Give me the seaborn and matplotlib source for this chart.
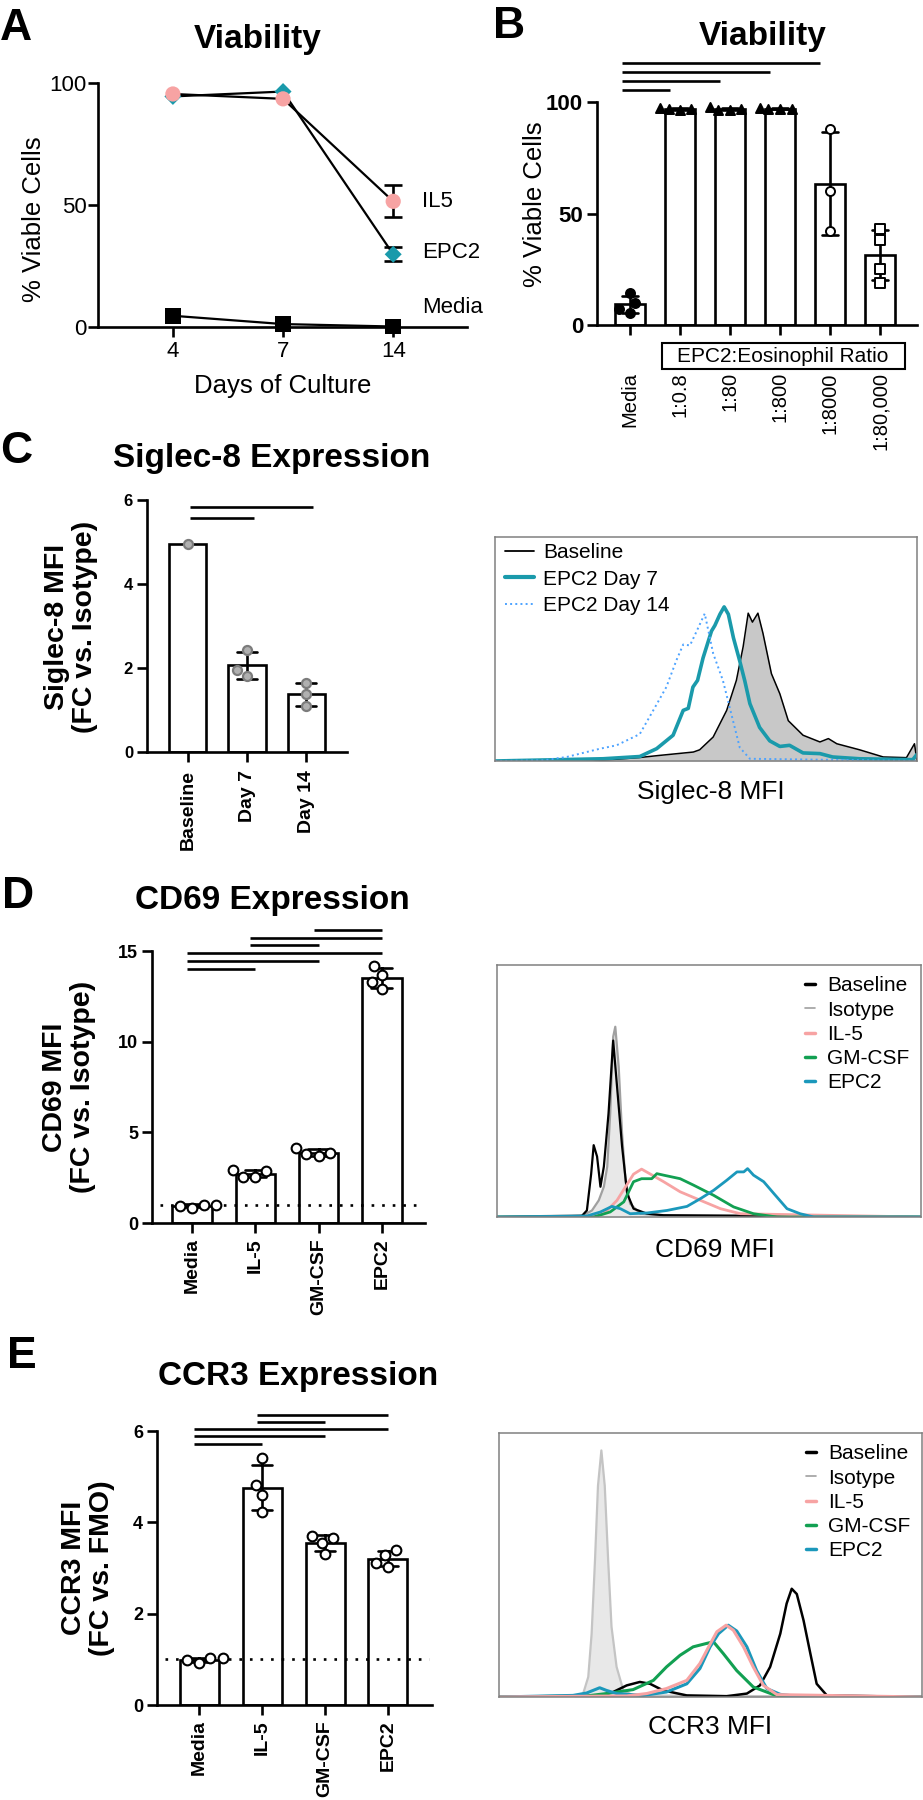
import numpy as np
import pandas as pd
import matplotlib
matplotlib.use("Agg")
import matplotlib.pyplot as plt
from matplotlib.lines import Line2D
from matplotlib.patches import Rectangle
import seaborn as sns

# ------------------------------------------------------------------
# A: viability vs days of culture (mean / sd)
# ------------------------------------------------------------------
A_DAYS = ["4", "7", "14"]
A_MEDIA = [4.6, 1.2, 0.2]
A_MEDIA_SD = [0.0, 0.0, 0.0]
A_EPC2 = [94.5, 96.5, 29.8]
A_EPC2_SD = [0.0, 0.0, 2.9]
A_IL5 = [95.5, 93.5, 51.5]
A_IL5_SD = [0.0, 0.0, 6.5]

# B: viability by EPC2:eosinophil ratio (replicates)
B_GROUPS = ["Media", "1:0.8", "1:80", "1:800", "1:8000", "1:80,000"]
B_MEDIA = [14.5, 10.0, 7.0, 5.5]
B_R08 = [97.3, 96.8, 96.5, 97.0]
B_R80 = [97.6, 96.5, 97.0, 96.3]
B_R800 = [97.0, 96.8, 97.2, 96.9]
B_R8000 = [88.0, 60.0, 42.0]
B_R80000 = [43.0, 38.0, 25.0, 19.0]
B_SIG = [("Media", "1:0.8"), ("Media", "1:80"), ("Media", "1:800"), ("Media", "1:8000")]

# C: Siglec-8 MFI
C_GROUPS = ["Baseline", "Day 7", "Day 14"]
C_BASE = [4.96]
C_D7 = [2.42, 1.95, 1.82]
C_D14 = [1.65, 1.38, 1.10]
C_SIG = [("Baseline", "Day 7"), ("Baseline", "Day 14")]

# C histogram (x: % of axis, y: % of axis height)
C_H_BASE_X = [0, 23, 34, 39, 47, 48.5, 51.7, 54.9, 57.2, 58.8, 60, 61, 62.3, 63.5, 65.5,
              67.5, 69.5, 73, 77, 79, 81, 86.4, 92, 97.5, 99.4, 100]
C_H_BASE_Y = [0, 0, 1.5, 2.5, 4, 5, 10.7, 22.6, 36, 51, 66, 62, 66, 57, 39,
              30, 18, 11.5, 8.5, 10, 7.7, 5, 1.8, 1.5, 7.7, 0]
C_H_D7_X = [0, 25.6, 34.3, 38.3, 42.2, 44.6, 45.8, 46.9, 48, 49.3, 51.3, 52.1, 53.3, 54.3,
            55.3, 56.5, 58, 59.2, 60.4, 62.7, 65.1, 67.5, 69.8, 73, 77, 80, 86.4, 99, 100]
C_H_D7_Y = [0, 1, 2, 5.5, 11.5, 22.6, 23.5, 33, 36, 46, 58, 60.5, 65.5, 68.8,
            65.5, 55, 44.6, 35.7, 25.6, 15, 9, 6.5, 7, 3.6, 3.3, 1.8, 1, 0.6, 3]
C_H_D14_X = [0, 11.4, 17, 24.9, 28.8, 34.3, 37.5, 40.6, 43, 44.6, 46.2, 47.8, 49.7,
             51.7, 54, 55.6, 58, 60.4, 100]
C_H_D14_Y = [0, 0.3, 1.8, 5.5, 7, 12, 22.6, 33, 45, 52, 51.6, 58, 65.8,
             48, 36, 24, 6, 1, 0]

# D: CD69 MFI
D_GROUPS = ["Media", "IL-5", "GM-CSF", "EPC2"]
D_MEDIA = [1.02, 1.02, 0.93, 0.85]
D_IL5 = [2.93, 2.87, 2.56, 2.55]
D_GM = [4.15, 3.88, 3.8, 3.67]
D_EPC2 = [13.7, 14.2, 13.3, 12.9]
D_SIG = [("Media", "IL-5"), ("Media", "GM-CSF"), ("Media", "EPC2"),
         ("IL-5", "GM-CSF"), ("IL-5", "EPC2"), ("GM-CSF", "EPC2")]

D_H_ISO_X = [0, 20.4, 22.4, 24, 25.2, 26, 26.7, 27.4, 27.9, 28.7, 29.5, 30.3, 31.4, 33.8, 38.5, 100]
D_H_ISO_Y = [0, 0.7, 2.6, 6.6, 12, 20, 41, 71.5, 75.5, 59.6, 33, 14.6, 5.3, 1.3, 0.7, 0]
D_H_BASE_X = [0, 20, 21.2, 22.2, 22.8, 23.6, 24.4, 25.2, 26.3, 27.4, 28.3, 29.5, 30.7, 32.2, 35.4, 39.3, 100]
D_H_BASE_Y = [0, 0.4, 2.6, 17, 28.5, 24, 12, 20, 41, 70, 52, 28, 9.3, 3.3, 1.3, 0.7, 0]
D_H_IL5_X = [0, 21.2, 25.2, 28.3, 30.7, 32.2, 34.1, 36.2, 39.3, 43.2, 48, 52.7, 57.4, 100]
D_H_IL5_Y = [0, 0, 1.3, 6.6, 13, 17, 19, 17, 14, 10, 6.6, 3.3, 1.3, 0]
D_H_GM_X = [0, 22.8, 26.7, 29.9, 32.2, 34.1, 36.5, 37.7, 39.3, 43.2, 46.4, 51.1, 55.8, 60.5, 66, 100]
D_H_GM_Y = [0, 0, 2, 6, 14, 15.2, 15.2, 17.2, 16.6, 15.2, 12.6, 8.6, 4, 1.3, 0, 0]
D_H_EPC2_X = [0, 21.2, 24.4, 27.1, 29.1, 31.4, 35.4, 40.1, 44.8, 48, 51.1, 54.2, 56.6, 58.2,
              59.1, 60.5, 62.9, 65.3, 68.4, 71.5, 74.7, 100]
D_H_EPC2_Y = [0, 0.4, 2, 4.2, 3.3, 1.3, 1.6, 2.6, 4.2, 7.3, 10.6, 14.6, 17.9, 17.9,
              19.2, 16.6, 14, 9.3, 3.3, 1.3, 0, 0]

# E: CCR3 MFI
E_GROUPS = ["Media", "IL-5", "GM-CSF", "EPC2"]
E_MEDIA = [1.02, 1.02, 0.99, 0.91]
E_IL5 = [5.4, 4.82, 4.6, 4.23]
E_GM = [3.7, 3.66, 3.55, 3.3]
E_EPC2 = [3.39, 3.28, 3.1, 3.03]
E_SIG = [("Media", "IL-5"), ("Media", "GM-CSF"), ("Media", "EPC2"),
         ("IL-5", "GM-CSF"), ("IL-5", "EPC2")]

E_H_ISO_X = [0, 17.5, 19.9, 21.1, 21.9, 22.7, 23.4, 24.2, 25, 25.8, 26.6, 27.8, 29.4, 31.7, 100]
E_H_ISO_Y = [0, 0, 1.3, 7.6, 24, 52, 80, 93.4, 80, 52, 26.6, 11.4, 2.5, 0.6, 0]
E_H_BASE_X = [0, 23.8, 27, 30.2, 33.3, 35.7, 38.8, 44.4, 53.8, 58.6, 61.7, 64.1, 66.5, 68,
              69.2, 70.4, 72, 73.6, 75.1, 77.5, 100]
E_H_BASE_Y = [0, 0.4, 1.9, 4.4, 5.7, 5, 2.5, 0.6, 0.3, 1.3, 4.4, 11.4, 24, 35.4,
              41, 39, 29, 16.5, 5, 0.6, 0]
E_H_IL5_X = [0, 30.2, 34.9, 39.6, 44.4, 47.5, 49.9, 51.5, 53.7, 55.4, 57.8, 60.1, 62.5, 65.7, 100]
E_H_IL5_Y = [0, 0.4, 1.3, 3.2, 6.3, 12.7, 20, 24.7, 27.2, 25.3, 19, 11.4, 4.4, 0.9, 0]
E_H_GM_X = [0, 20.7, 25.4, 31.7, 36.5, 39.6, 42.8, 45.9, 49.1, 50.7, 53, 56.2, 60.1, 64.9, 68, 100]
E_H_GM_Y = [0, 0.4, 1.3, 2.8, 6.3, 11.4, 15.8, 19, 20.3, 20.9, 16.5, 10, 3.8, 0.9, 0, 0]
E_H_EPC2_X = [0, 17.5, 20.7, 23.8, 25.4, 27.8, 34.1, 39.6, 44.4, 47.5, 49.9, 51.9, 54.2,
              56.2, 58.6, 60.9, 63.3, 66.5, 69.6, 100]
E_H_EPC2_Y = [0, 0.6, 1.5, 3.5, 2.5, 1.3, 0.6, 1.9, 5, 10.8, 19, 24, 27.2,
              25, 19, 10, 3.2, 1, 0.4, 0]

FC_REF = 1.0  # dotted reference line (fold change = 1)

# ------------------------------------------------------------------
# style
# ------------------------------------------------------------------
PINK = "#f7a3a3"
TEAL = "#1a9aab"
GREEN = "#12a052"
BLUE = "#1b98bb"
LIGHTBLUE = "#4da3ff"
LW = 1.9

sns.set_theme(style="ticks", rc={
    "axes.edgecolor": "black", "axes.linewidth": LW,
    "xtick.color": "black", "ytick.color": "black",
    "text.color": "black", "axes.labelcolor": "black",
})
plt.rcParams["font.family"] = ["Liberation Sans", "DejaVu Sans"]

W, H = 923, 1800
fig = plt.figure(figsize=(W / 100, H / 100), dpi=100)


def px_axes(x0, y0, x1, y1):
    return fig.add_axes([x0 / W, 1 - y1 / H, (x1 - x0) / W, (y1 - y0) / H])


def ftext(x, y, s, **kw):
    return fig.text(x / W, 1 - y / H, s, **kw)


def long_df(order, values):
    return pd.DataFrame({
        "group": [g for g, vals in zip(order, values) for _ in vals],
        "val": [v for vals in values for v in vals],
    })


def bars(ax, df, order, width):
    sns.barplot(data=df, x="group", y="val", order=order, errorbar="sd", width=width,
                color="white", saturation=1, edgecolor="black", linewidth=LW,
                capsize=0.33, err_kws={"color": "black", "linewidth": LW}, ax=ax)
    ax.set(xlabel="", ylabel="")


def sig_lines(ax, order, pairs, y0, step, dx0=-0.08, dx1=0.0):
    for k, (a, b) in enumerate(pairs):
        i, j = order.index(a), order.index(b)
        ax.plot([i + dx0, j + dx1], [y0 + k * step] * 2, color="black", lw=LW,
                clip_on=False, solid_capstyle="butt")


def bar_axes_style(ax, order, yticks, ylim, xlim, bold=True, xpad=4, xsize=14, ysize=13):
    sns.despine(ax=ax)
    ax.set_ylim(*ylim)
    ax.set_xlim(*xlim)
    w = "bold" if bold else "normal"
    ax.set_yticks(yticks, labels=[str(t) for t in yticks], fontsize=ysize, fontweight="bold")
    ax.set_xticks(range(len(order)), labels=order, rotation=90, fontsize=xsize,
                  fontweight=w, va="top", ha="center")
    ax.tick_params(axis="both", length=7, width=LW)
    ax.tick_params(axis="x", pad=xpad)
    ax.tick_params(axis="y", pad=3)


def hist_axes_style(ax):
    ax.set_xlim(0, 100)
    ax.set_ylim(0, 100)
    ax.set_xticks([])
    ax.set_yticks([])
    for sp in ax.spines.values():
        sp.set_color("#808080")
        sp.set_linewidth(1.1)


def curve(ax, x, y, **kw):
    sns.lineplot(x=x, y=y, sort=False, estimator=None, ax=ax, **kw)


# ------------------------------------------------------------------
# A
# ------------------------------------------------------------------
ax = px_axes(98, 83, 467, 327)
df_a = pd.DataFrame({
    "day": A_DAYS * 3,
    "cond": ["Media"] * 3 + ["EPC2"] * 3 + ["IL5"] * 3,
    "val": A_MEDIA + A_EPC2 + A_IL5,
    "sd": A_MEDIA_SD + A_EPC2_SD + A_IL5_SD,
})
sns.lineplot(data=df_a, x="day", y="val", units="cond", estimator=None, color="black",
             lw=1.6, sort=False, ax=ax)
err = df_a[df_a["sd"] > 0]
ax.errorbar(err["day"], err["val"], yerr=err["sd"], fmt="none", ecolor="black",
            elinewidth=LW, capsize=6.5, capthick=LW, zorder=3)
sns.scatterplot(data=df_a, x="day", y="val", hue="cond", style="cond", size="cond",
                palette={"Media": "black", "EPC2": TEAL, "IL5": PINK},
                markers={"Media": "s", "EPC2": "D", "IL5": "o"},
                sizes={"Media": 125, "EPC2": 75, "IL5": 120},
                linewidth=0, legend=False, zorder=4, clip_on=False, ax=ax)
sns.despine(ax=ax)
ax.set_ylim(0, 100)
ax.set_xlim(-0.68, 2.67)
ax.set_yticks([0, 50, 100])
ax.tick_params(axis="both", length=7, width=LW, labelsize=16)
ax.tick_params(axis="y", pad=1)
ax.tick_params(axis="x", pad=3)
ax.set(xlabel="", ylabel="")
for name, vals, dy in [("IL5", A_IL5, 0), ("EPC2", A_EPC2, 1), ("Media", A_MEDIA, 14)]:
    ax.annotate(name, xy=(2, vals[-1]), xytext=(21, dy), textcoords="offset points",
                fontsize=16, va="center", ha="left", annotation_clip=False)
ftext(34, 219, "% Viable Cells", rotation=90, ha="center", va="center", fontsize=18.5)
ftext(283, 393, "Days of Culture", ha="center", va="baseline", fontsize=18.5)
ftext(258, 48, "Viability", ha="center", va="baseline", fontsize=24, fontweight="bold")
ftext(0, 40, "A", ha="left", va="baseline", fontsize=32, fontweight="bold")

# ------------------------------------------------------------------
# B
# ------------------------------------------------------------------
ax = px_axes(597, 102, 917, 325)
b_vals = [B_MEDIA, B_R08, B_R80, B_R800, B_R8000, B_R80000]
df_b = long_df(B_GROUPS, b_vals)
bars(ax, df_b, B_GROUPS, 0.6)
b_markers = {"Media": ("o", "black"), "1:0.8": ("^", "black"), "1:80": ("^", "black"),
             "1:800": ("^", "black"), "1:8000": ("o", "white"), "1:80,000": ("s", "white")}
for g, (m, c) in b_markers.items():
    sns.swarmplot(data=df_b[df_b["group"] == g], x="group", y="val", order=B_GROUPS,
                  marker=m, color=c, edgecolor="black", linewidth=1.4, size=6.5,
                  zorder=3, ax=ax)
ax.set(xlabel="", ylabel="")
bar_axes_style(ax, B_GROUPS, [0, 50, 100], (0, 100), (-0.66, 5.74), bold=False,
               xpad=27, xsize=14.5, ysize=16)
sig_lines(ax, B_GROUPS, B_SIG, 105.4, 4.0, dx0=-0.16, dx1=-0.2)
fig.patches.append(Rectangle((662 / W, 1 - 369 / H), (905 - 662) / W, 26 / H,
                             transform=fig.transFigure, fill=False, ec="black", lw=1.5))
ftext(783, 356, "EPC2:Eosinophil Ratio", ha="center", va="center", fontsize=15)
ftext(535, 204, "% Viable Cells", rotation=90, ha="center", va="center", fontsize=18.5)
ftext(763, 45, "Viability", ha="center", va="baseline", fontsize=24, fontweight="bold")
ftext(493, 38, "B", ha="left", va="baseline", fontsize=32, fontweight="bold")

# ------------------------------------------------------------------
# C
# ------------------------------------------------------------------
ax = px_axes(147, 500, 347, 752)
df_c = long_df(C_GROUPS, [C_BASE, C_D7, C_D14])
bars(ax, df_c, C_GROUPS, 0.63)
sns.swarmplot(data=df_c, x="group", y="val", order=C_GROUPS, color="#b0b0b0",
              edgecolor="#7c7c7c", linewidth=1.6, size=6.5, zorder=3, ax=ax)
ax.set(xlabel="", ylabel="")
bar_axes_style(ax, C_GROUPS, [0, 2, 4, 6], (0, 6), (-0.69, 2.69), xpad=6, ysize=12)
sig_lines(ax, C_GROUPS, C_SIG, 5.57, 0.26, dx0=0.03, dx1=0.12)
ftext(71, 627, "Siglec-8 MFI\n(FC vs. Isotype)", rotation=90, ha="center", va="center",
      fontsize=20.5, fontweight="bold", linespacing=1.1)
ftext(272, 467, "Siglec-8 Expression", ha="center", va="baseline", fontsize=24,
      fontweight="bold")
ftext(0, 463, "C", ha="left", va="baseline", fontsize=32, fontweight="bold")

ax = px_axes(495, 537, 917, 761)
ax.fill_between(C_H_BASE_X, C_H_BASE_Y, color="#c8c8c8", lw=0)
curve(ax, C_H_BASE_X, C_H_BASE_Y, color="black", lw=1.1)
curve(ax, C_H_D7_X, C_H_D7_Y, color=TEAL, lw=2.6)
curve(ax, C_H_D14_X, C_H_D14_Y, color=LIGHTBLUE, lw=1.4, linestyle=":")
hist_axes_style(ax)
handles = [Line2D([], [], color="black", lw=1.3),
           Line2D([], [], color=TEAL, lw=3),
           Line2D([], [], color=LIGHTBLUE, lw=1.4, linestyle=":")]
ax.legend(handles, ["Baseline", "EPC2 Day 7", "EPC2 Day 14"], loc="upper left",
          bbox_to_anchor=(0.01, 1.0), frameon=False, fontsize=15, handlelength=1.35,
          handletextpad=0.45, labelspacing=0.35, borderaxespad=0, borderpad=0.3)
ftext(711, 792, "Siglec-8 MFI", ha="center", va="center", fontsize=19)

# ------------------------------------------------------------------
# D
# ------------------------------------------------------------------
ax = px_axes(152, 951, 425, 1223)
df_d = long_df(D_GROUPS, [D_MEDIA, D_IL5, D_GM, D_EPC2])
bars(ax, df_d, D_GROUPS, 0.62)
ax.axhline(FC_REF, xmin=0.03, xmax=0.99, color="black", lw=LW, ls=(0, (1, 3)), zorder=2)
sns.swarmplot(data=df_d, x="group", y="val", order=D_GROUPS, color="white",
              edgecolor="black", linewidth=1.5, size=7, zorder=3, ax=ax)
ax.set(xlabel="", ylabel="")
bar_axes_style(ax, D_GROUPS, [0, 5, 10, 15], (0, 15), (-0.63, 3.68), ysize=13)
sig_lines(ax, D_GROUPS, D_SIG, 14.02, 0.43)
ftext(69, 1087, "CD69 MFI\n(FC vs. Isotype)", rotation=90, ha="center", va="center",
      fontsize=20.5, fontweight="bold", linespacing=1.1)
ftext(272, 909, "CD69 Expression", ha="center", va="baseline", fontsize=24,
      fontweight="bold")
ftext(2, 908, "D", ha="left", va="baseline", fontsize=32, fontweight="bold")

ax = px_axes(497, 965, 921, 1217)
ax.fill_between(D_H_ISO_X, D_H_ISO_Y, color="#e8e8e8", lw=0)
curve(ax, D_H_ISO_X, D_H_ISO_Y, color="#a0a0a0", lw=1.6)
curve(ax, D_H_BASE_X, D_H_BASE_Y, color="black", lw=1.6)
curve(ax, D_H_IL5_X, D_H_IL5_Y, color=PINK, lw=2)
curve(ax, D_H_GM_X, D_H_GM_Y, color=GREEN, lw=2)
curve(ax, D_H_EPC2_X, D_H_EPC2_Y, color=BLUE, lw=2)
hist_axes_style(ax)
hist_handles = [Line2D([], [], color="black", lw=2.5),
                Line2D([], [], color="#a0a0a0", lw=1.2),
                Line2D([], [], color=PINK, lw=2.5),
                Line2D([], [], color=GREEN, lw=2.5),
                Line2D([], [], color=BLUE, lw=2.5)]
hist_labels = ["Baseline", "Isotype", "IL-5", "GM-CSF", "EPC2"]
ax.legend(hist_handles, hist_labels, loc="upper right", bbox_to_anchor=(1.0, 1.0),
          frameon=False, fontsize=15, handlelength=0.45, handletextpad=0.6,
          labelspacing=0.25, borderaxespad=0, borderpad=0.55)
ftext(715, 1250, "CD69 MFI", ha="center", va="center", fontsize=19)

# ------------------------------------------------------------------
# E
# ------------------------------------------------------------------
ax = px_axes(157, 1431, 432, 1705)
df_e = long_df(E_GROUPS, [E_MEDIA, E_IL5, E_GM, E_EPC2])
bars(ax, df_e, E_GROUPS, 0.62)
ax.axhline(FC_REF, xmin=0.03, xmax=0.99, color="black", lw=LW, ls=(0, (1, 3)), zorder=2)
sns.swarmplot(data=df_e, x="group", y="val", order=E_GROUPS, color="white",
              edgecolor="black", linewidth=1.5, size=7, zorder=3, ax=ax)
ax.set(xlabel="", ylabel="")
bar_axes_style(ax, E_GROUPS, [0, 2, 4, 6], (0, 6), (-0.67, 3.70), ysize=13)
sig_lines(ax, E_GROUPS, E_SIG, 5.72, 0.16)
ftext(88, 1568, "CCR3 MFI\n(FC vs. FMO)", rotation=90, ha="center", va="center",
      fontsize=20.5, fontweight="bold", linespacing=1.1)
ftext(298, 1385, "CCR3 Expression", ha="center", va="baseline", fontsize=24,
      fontweight="bold")
ftext(7, 1368, "E", ha="left", va="baseline", fontsize=32, fontweight="bold")

ax = px_axes(499, 1433, 922, 1697)
ax.fill_between(E_H_ISO_X, E_H_ISO_Y, color="#e8e8e8", lw=0)
curve(ax, E_H_ISO_X, E_H_ISO_Y, color="#c4c4c4", lw=1.6)
curve(ax, E_H_BASE_X, E_H_BASE_Y, color="black", lw=1.8)
curve(ax, E_H_GM_X, E_H_GM_Y, color=GREEN, lw=2.2)
curve(ax, E_H_EPC2_X, E_H_EPC2_Y, color=BLUE, lw=2.2)
curve(ax, E_H_IL5_X, E_H_IL5_Y, color=PINK, lw=2.2)
hist_axes_style(ax)
ax.legend(hist_handles, hist_labels, loc="upper right", bbox_to_anchor=(1.0, 1.0),
          frameon=False, fontsize=15, handlelength=0.45, handletextpad=0.6,
          labelspacing=0.25, borderaxespad=0, borderpad=0.55)
ftext(710, 1727, "CCR3 MFI", ha="center", va="center", fontsize=19)

fig.savefig("out.png", dpi=100)
